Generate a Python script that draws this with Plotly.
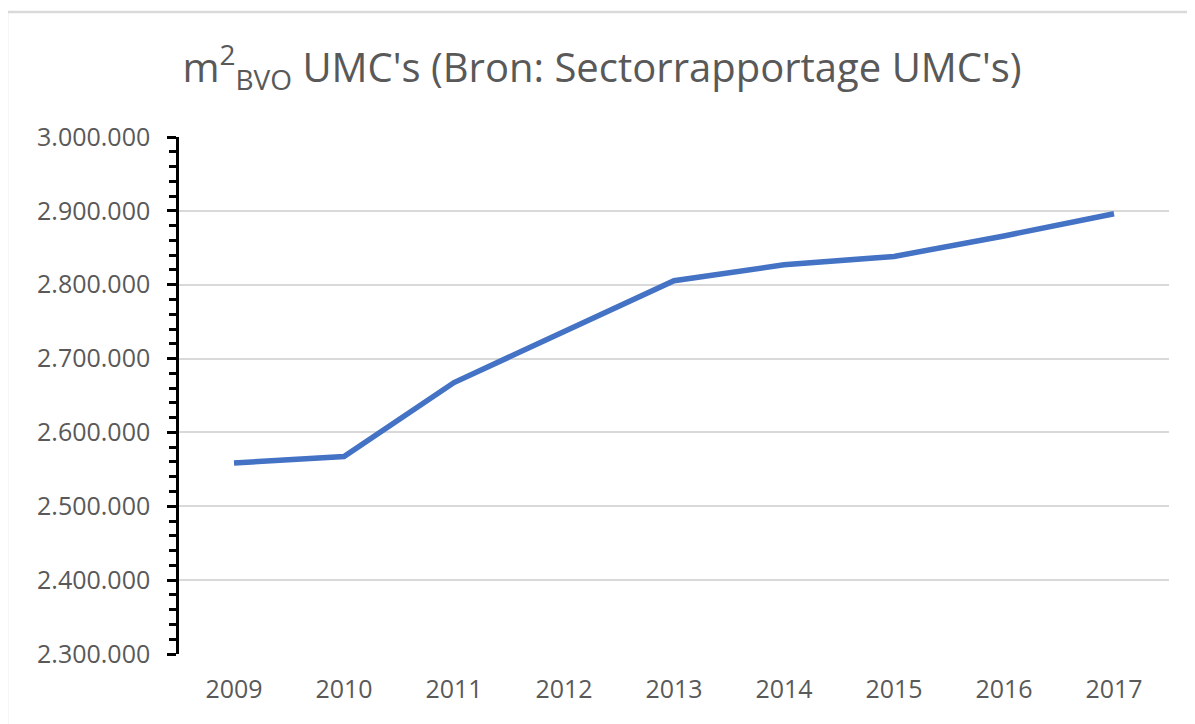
import plotly.graph_objects as go

years = ["2009", "2010", "2011", "2012", "2013", "2014", "2015", "2016", "2017"]
m2_bvo = [2558600, 2567500, 2667500, 2737000, 2805400, 2827000, 2838300, 2866000, 2896000]
y_ticks = [2300000, 2400000, 2500000, 2600000, 2700000, 2800000, 2900000, 3000000]

title_text = "m<sup>2</sup><sub>BVO</sub> UMC's (Bron: Sectorrapportage UMC's)"

# the page body adds an 8px offset; compensate so the plot lands where the reference has it
OFF = 8
W, H = 1195 - OFF, 724 - OFF
L, T = 179 - OFF, 137 - OFF
PW, PH = 990, 517

fig = go.Figure()
fig.add_trace(go.Scatter(
    x=years, y=m2_bvo, mode="lines",
    line=dict(color="#4472C4", width=5.5),
    showlegend=False, hoverinfo="x+y",
))

fig.update_layout(
    width=W, height=H,
    paper_bgcolor="white", plot_bgcolor="white",
    margin=dict(l=L, r=W - L - PW, t=T, b=H - T - PH, pad=0),
    separators=",.",
    font=dict(family="Open Sans, sans-serif", color="#595959", size=25),
    title=dict(text=title_text, x=(602 - OFF) / W, xanchor="center",
               y=1 - (68 - OFF) / H, yanchor="middle", yref="container",
               font=dict(size=40, color="#595959", family="Open Sans, sans-serif")),
    xaxis=dict(
        type="category", range=[-0.5, 8.5],
        showgrid=False, showline=False, ticks="", zeroline=False,
        tickfont=dict(size=25, color="#595959"),
        ticklabelstandoff=18,
    ),
    yaxis=dict(
        range=[2300000, 3000000], tickvals=y_ticks, tickformat=",d",
        showgrid=True, gridcolor="#D9D9D9", gridwidth=2,
        showline=True, linecolor="black", linewidth=2.5,
        ticks="outside", ticklen=9, tickwidth=2.5, tickcolor="black",
        minor=dict(dtick=20000, tick0=2300000, ticks="outside", ticklen=7,
                   tickwidth=2.5, tickcolor="black", showgrid=False),
        zeroline=False,
        tickfont=dict(size=25, color="#595959"),
        ticklabelstandoff=12,
    ),
    shapes=[dict(type="rect", xref="paper", yref="paper",
                 x0=(7 - 179) / PW, x1=1.2, y0=-0.3, y1=(654 - 12) / PH,
                 line=dict(color="#D9D9D9", width=2.5), fillcolor="rgba(0,0,0,0)",
                 layer="below")],
)

fig.write_html("out.html")
